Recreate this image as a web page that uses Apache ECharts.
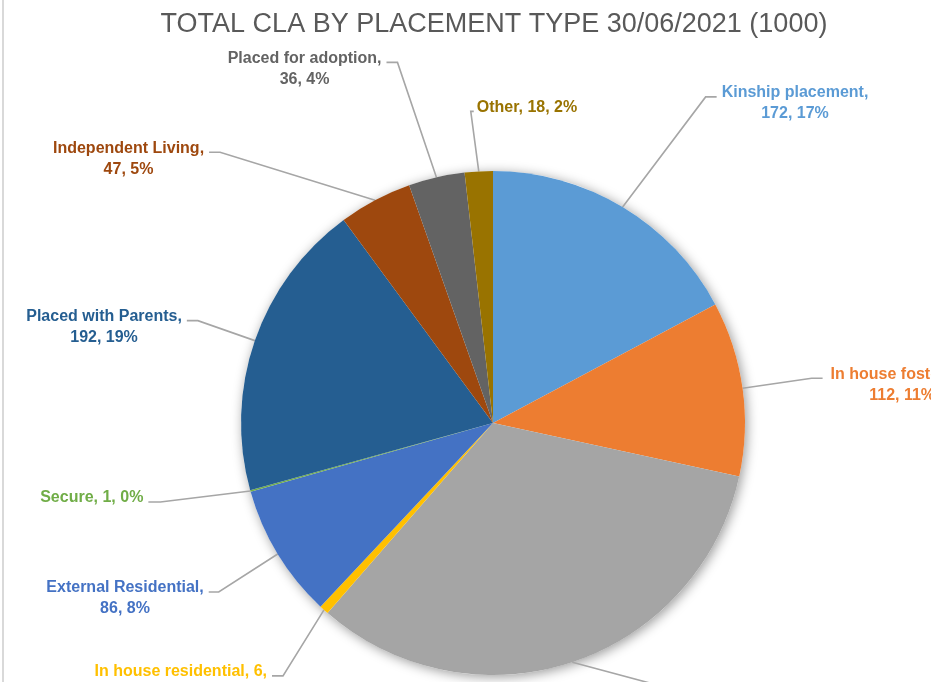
<!DOCTYPE html>
<html><head><meta charset="utf-8">
<script src="https://cdn.jsdelivr.net/npm/echarts@6/dist/echarts.min.js"></script>
<style>html,body{margin:0;padding:0;background:#fff}#c{width:931px;height:682px}</style>
</head><body><div id="c"></div>
<script>
const titleText = 'TOTAL CLA BY PLACEMENT TYPE 30/06/2021 (1000)';
const categories = ['Kinship placement', 'In house fostering', 'External fostering', 'In house residential',
  'External Residential', 'Secure', 'Placed with Parents', 'Independent Living', 'Placed for adoption', 'Other'];
const values = [172, 112, 330, 6, 86, 1, 192, 47, 36, 18];
const percentLabels = ['17%', '11%', '33%', '1%', '8%', '0%', '19%', '5%', '4%', '2%'];

// styling
const colors = ['#5B9BD5', '#ED7D31', '#A5A5A5', '#FFC000', '#4472C4', '#70AD47', '#255E91', '#9E480E', '#636363', '#997300'];
const labelColors = ['#5B9BD5', '#ED7D31', '#A5A5A5', '#FFC000', '#4472C4', '#70AD47', '#255E91', '#9E480E', '#636363', '#997300'];
const labelWrap = ['name', 'name', 'name', 'value', 'name', 'none', 'name', 'name', 'name', 'none'];
// leader line: elbow offset from slice edge [dx, dy], horizontal tick (signed), gap to text
const labelGuides = [
  [83, -110, 11, 5], [69, -10, 11, 8], [130, 35, 11, 5], [-41, 66, -11, 5], [-59, 38, -10, 5],
  [-90, 11, -12, 5], [-57, -20, -11, 5], [-155, -48, -11, 5], [-39, -115, -11, 5], [-8, -60, 3, 3]
];

const FONT = 'Liberation Sans';
const LINE_H = 21;
const total = values.reduce((a, b) => a + b, 0);

function labelText(i) {
  const w = labelWrap[i];
  if (w === 'none') return categories[i] + ', ' + values[i] + ', ' + percentLabels[i];
  if (w === 'value') return categories[i] + ', ' + values[i] + ',\n' + percentLabels[i];
  return categories[i] + ',\n' + values[i] + ', ' + percentLabels[i];
}

const chart = echarts.init(document.getElementById('c'), null, { renderer: 'canvas' });
chart.setOption({
  animation: false,
  title: {
    text: titleText, left: 489, top: 6, textAlign: 'center',
    textStyle: { fontFamily: FONT, fontSize: 27, fontWeight: 'normal', color: '#595959' }
  },
  graphic: [{ type: 'rect', left: 2, top: 0, silent: true, shape: { width: 2, height: 682 }, style: { fill: '#D9D9D9' } }],
  series: [
    {
      type: 'pie', center: [493, 423], radius: 252, silent: true, z: 1,
      data: [{ value: total, name: 'all' }],
      label: { show: false }, labelLine: { show: false },
      itemStyle: { color: '#ffffff', shadowBlur: 12, shadowColor: 'rgba(0,0,0,0.4)', shadowOffsetX: 2, shadowOffsetY: 2 }
    },
    {
      type: 'pie', center: [493, 423], radius: 252, startAngle: 90, clockwise: true,
      avoidLabelOverlap: false, silent: true, z: 2,
      data: categories.map((n, i) => ({
        name: n, value: values[i],
        itemStyle: { color: colors[i] },
        label: { color: labelColors[i] }
      })),
      label: {
        show: true, position: 'outside', formatter: p => labelText(p.dataIndex),
        fontFamily: FONT, fontWeight: 'bold', fontSize: 16, lineHeight: LINE_H, align: 'center'
      },
      labelLine: { show: true, length: 10, length2: 10, smooth: false, lineStyle: { color: '#A6A6A6', width: 1.6 } },
      labelLayout: function (p) {
        const i = p.dataIndex;
        const g = labelGuides[i];
        const e = p.labelLinePoints[0];
        const elbow = [e[0] + g[0], e[1] + g[1]];
        const end = [elbow[0] + g[2], elbow[1]];
        const w = p.labelRect.width;
        const gap = g[3];
        const cx = g[2] >= 0 ? end[0] + gap + w / 2 : end[0] - gap - w / 2;
        return {
          x: cx, y: end[1] - 4 - LINE_H / 2, align: 'center', verticalAlign: 'top',
          labelLinePoints: [e, elbow, end]
        };
      }
    }
  ]
});
</script></body></html>
